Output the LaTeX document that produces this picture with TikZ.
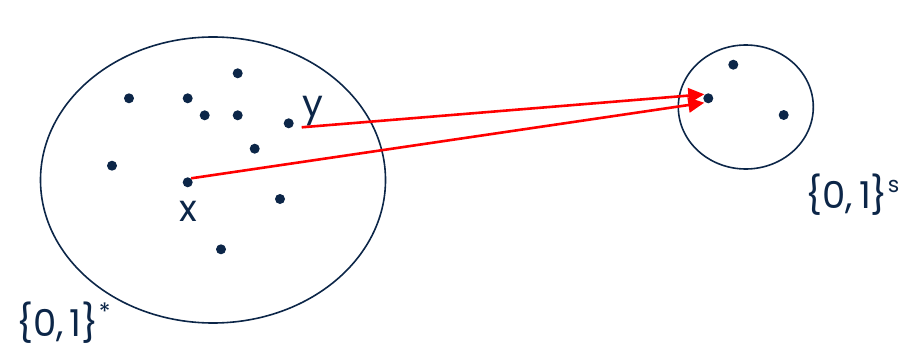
\documentclass[tikz,border=0pt]{standalone}
\usepackage{fontspec}
\setmainfont{Poppins}
\usetikzlibrary{arrows.meta,calc}
\definecolor{navy}{RGB}{12,38,72}
\definecolor{arrred}{RGB}{255,0,0}
\begin{document}
\begin{tikzpicture}[x=1pt,y=-1pt,
  dot/.style={circle,fill=navy,inner sep=0pt,minimum size=10pt},
  setshape/.style={draw=navy,line width=1.6pt},
  lbl/.style={text=navy,font=\fontsize{37}{37}\selectfont,inner sep=0pt},
  maparrow/.style={draw=arrred,line width=2.6pt,-{Triangle[length=16pt,width=15pt]}}]
\useasboundingbox (0,0) rectangle (915,348);
% sets
\draw[setshape] (213,180) ellipse [x radius=172.5, y radius=143];
\draw[setshape] (745.8,107) ellipse [x radius=67.5, y radius=62];
% dots in big set
\node[dot] (d1) at (237.7,73.3) {};
\node[dot] (d2) at (129,98.3) {};
\node[dot] (d3) at (187.7,98.3) {};
\node[dot] (d4) at (204.7,115.3) {};
\node[dot] (d5) at (237.7,115.3) {};
\node[dot] (dy) at (288.7,123.3) {};
\node[dot] (d7) at (254.7,148.7) {};
\node[dot] (d8) at (112,165.7) {};
\node[dot] (dx) at (187.7,182.3) {};
\node[dot] (d10) at (280,199) {};
\node[dot] (d11) at (221,249.3) {};
% dots in small set
\node[dot] (e1) at (733.3,64.7) {};
\node[dot] (ez) at (708.3,98.3) {};
\node[dot] (e3) at (783.7,115) {};
% labels
\node[lbl] (lx) at (188.3,211) {x};
\node[lbl] (ly) at (313,111) {y};
\node[lbl,anchor=west] (lstar) at (16,323) {\{0,\,1\}\raisebox{0.45em}{\fontsize{24}{24}\selectfont *}};
\node[lbl,anchor=west] (ls) at (805,195) {\{0,\,1\}\raisebox{0.45em}{\fontsize{22}{22}\selectfont s}};
% arrows
\coordinate (xs) at ($(dx)+(3.5,-4)$);
\coordinate (ys) at ($(dy)+(13,4)$);
\coordinate (xt) at ($(ez)+(-4,4.4)$);
\coordinate (yt) at ($(ez)+(-4,-4)$);
\draw[maparrow] (xs) -- (xt);
\draw[maparrow] (ys) -- (yt);
\end{tikzpicture}
\end{document}
